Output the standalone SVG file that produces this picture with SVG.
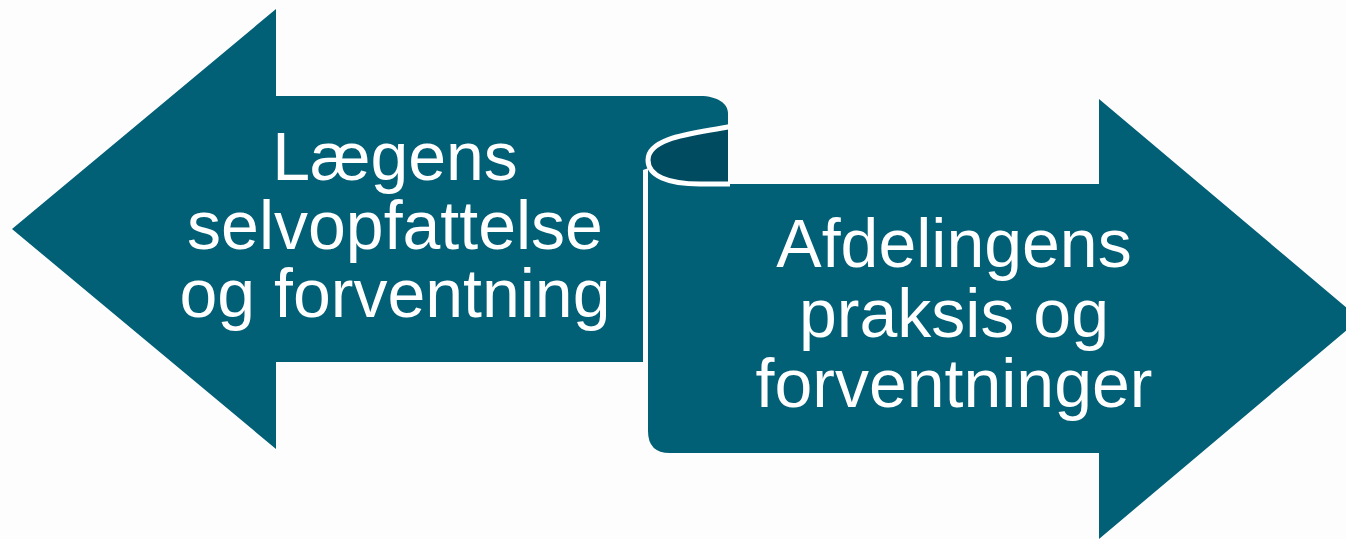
<svg xmlns="http://www.w3.org/2000/svg" width="1346" height="539" viewBox="0 0 1346 539">
<style>
.teal{fill:#015f76}
.dark{fill:#004b60}
.lbl{font-family:"Liberation Sans",Arial,sans-serif;font-size:68px;fill:#ffffff;text-anchor:middle}
</style>
<rect width="1346" height="539" fill="#fdfdfd"/>
<g id="left-arrow">
<path class="teal" d="M12,229 L276,9 L276,96 L700,96 C718,96 728,104 728,113 L728,140 L643,170 L643,362 L276,362 L276,449 Z"/>
<text class="lbl" x="395" y="180">Lægens</text>
<text class="lbl" x="395" y="249">selvopfattelse</text>
<text class="lbl" x="395" y="317">og forventning</text>
</g>
<g id="right-arrow">
<path class="dark" d="M728,127 C700,133 648,136 648,160 C648,176 668,184 700,184 L728,184 Z"/>
<path class="teal" d="M648,160 C648,176 668,184 700,184 L1099,184 L1099,99 L1360,319 L1099,539 L1099,453 L670,453 Q648,453 648,431 Z"/>
<path d="M730,126.5 C700,133 648,136 648,160 C648,176 668,184 700,184 L730,184" fill="none" stroke="#ffffff" stroke-width="5"/>
<text class="lbl" x="954" y="267">Afdelingens</text>
<text class="lbl" x="954" y="337">praksis og</text>
<text class="lbl" x="954" y="407">forventninger</text>
</g>
</svg>
